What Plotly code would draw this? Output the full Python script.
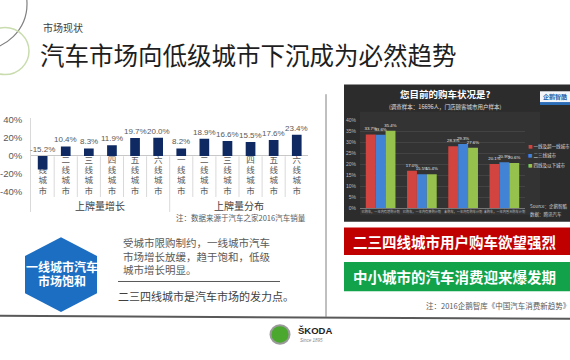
import plotly.graph_objects as go

W, H = 570, 360

# ---------------- data ----------------
city_tiers = ["一线城市", "二线城市", "三线城市", "四线城市", "五线城市", "六线城市"]
group_names = ["上牌量增长", "上牌量分布"]
growth = [-15.2, 10.4, 8.3, 11.9, 19.7, 20.0]
share = [8.2, 18.9, 16.6, 15.5, 17.6, 23.4]
left_tick_vals = [40, 20, 0, -20, -40]
left_tick_text = ["40%", "20%", "0%", "-20%", "-40%"]

survey_cats = ["已购车，一年内有增购计划", "已购车，一年内有换购计划",
               "未购车，一年内有购车计划", "未购车，一年内暂无购车计划"]
series_names = ["一线及超一线城市", "二三线城市", "四线及以下城市"]
series_first = [33.7, 17.0, 28.3, 20.1]
series_second = [33.6, 15.5, 29.3, 20.9]
series_third = [35.4, 15.4, 27.6, 20.6]

# ---------------- helpers ----------------
CJK = "Noto Sans CJK SC"
NUM = "Liberation Sans, Noto Sans CJK SC"


def X(px):
    return px / W


def Y(py):
    return 1 - py / H


annotations = []
shapes = []


def ann(px, py, text, size, color, xanchor="left", family=CJK, bold=False, yanchor="middle"):
    annotations.append(dict(
        x=X(px), y=Y(py), xref="paper", yref="paper", text=("<b>%s</b>" % text) if bold else text,
        showarrow=False, xanchor=xanchor, yanchor=yanchor, borderpad=0,
        font=dict(size=size, color=color, family=family)))


def rect(x0, y0, x1, y1, fill, line_color=None, line_width=0, layer="below"):
    shapes.append(dict(type="rect", xref="paper", yref="paper", x0=X(x0), x1=X(x1), y0=Y(y0), y1=Y(y1),
                       fillcolor=fill, line=dict(width=line_width, color=line_color or fill), layer=layer))


def line(x0, y0, x1, y1, color, width=1, layer="above"):
    shapes.append(dict(type="line", xref="paper", yref="paper", x0=X(x0), x1=X(x1), y0=Y(y0), y1=Y(y1),
                       line=dict(color=color, width=width), layer=layer))


fig = go.Figure()

# ---------------- left chart ----------------
CHAR_Y = [-5.5, -16.8, -28.1, -39.4]
lx, ly, lt = [], [], []
for g in range(2):
    for t, name in enumerate(city_tiers):
        for k, ch in enumerate(name):
            lx.append(g * 6 + t)
            ly.append(CHAR_Y[k])
            lt.append(ch)
fig.add_trace(go.Scatter(x=lx, y=ly, text=lt, mode="text", xaxis="x", yaxis="y",
                         textfont=dict(size=8.5, color="#595959", family=CJK),
                         hoverinfo="skip", showlegend=False, cliponaxis=False))

left_vals = growth + share
left_x = list(range(len(left_vals)))
fig.add_trace(go.Bar(x=left_x, y=left_vals, xaxis="x3", yaxis="y3", width=0.42,
                     marker=dict(color="#0f2a63", line=dict(width=0)), showlegend=False))

for i, v in zip(left_x, left_vals):
    annotations.append(dict(x=i, y=max(v, 0), xref="x", yref="y", text="%.1f%%" % v, showarrow=False,
                            yanchor="bottom", yshift=1, borderpad=0,
                            font=dict(size=8, color="#595959", family=NUM)))
for g, name in enumerate(group_names):
    annotations.append(dict(x=g * 6 + 2.5, y=-55, xref="x", yref="y", text=name, showarrow=False,
                            font=dict(size=10, color="#404040", family=CJK)))

for i in range(11):
    x = i + 0.5
    shapes.append(dict(type="line", xref="x", yref="y", x0=x, x1=x, y0=-0.5, y1=(-62 if i == 5 else -45.5),
                       line=dict(color="#d9d9d9", width=1)))

ann(175, 218, "注：数据来源于汽车之家2016汽车销量", 7.5, "#595959")

# ---------------- right chart ----------------
rect(344, 82, 570, 222, "#2c2c2c")
rect(360, 110, 540, 215, "#333333")
series_vals = [series_first, series_second, series_third]
series_colors = ["#d2443f", "#4383d6", "#95c14c"]
for s in range(3):
    fig.add_trace(go.Bar(x=list(range(len(survey_cats))), y=series_vals[s], xaxis="x2", yaxis="y2",
                         width=0.24, offset=-0.36 + 0.24 * s, name=series_names[s],
                         marker=dict(color=series_colors[s], line=dict(width=0)),
                         text=["%.1f%%" % v for v in series_vals[s]], textposition="outside",
                         constraintext="none", cliponaxis=False,
                         textfont=dict(size=4.3, color="#e6e6e6", family=NUM), showlegend=False))

ann(445, 92, "您目前的购车状况是?", 9.5, "#ffffff", xanchor="center", bold=True)
ann(445, 105, "(调查样本：16696人，门店顾客城市用户样本)", 5.5, "#e0e0e0", xanchor="center")
rect(540, 89, 570, 103, "#f4f6fa", layer="above")
ann(555, 94, "<b>企鹅智酷</b>", 6, "#1f5fa8", xanchor="center")
rect(540, 100, 570, 103, "#2c6db8", layer="above")
for s in range(3):
    py = 145 + 10 * s
    ann(527, py, "<span style='color:%s'>■</span> %s" % (series_colors[s], series_names[s]), 4.5, "#dddddd")
ann(529, 207, "Source：企鹅智酷", 4.5, "#cccccc")
ann(529, 215, "数据：腾讯汽车", 4.5, "#cccccc")

# banners
rect(344, 228, 570, 256, "#c00000")
ann(352, 242, "二三四线城市用户购车欲望强烈", 14.5, "#ffffff", bold=True)
rect(344, 263, 570, 293, "#12a24a")
ann(352, 278, "中小城市的汽车消费迎来爆发期", 14.5, "#ffffff", bold=True)
ann(425, 307, "注：2016企鹅智库《中国汽车消费新趋势》", 7.5, "#595959")

# ---------------- left bottom text ----------------
hx, hy, hw, hr = 61, 276, 36, 38
shapes.append(dict(type="path", xref="paper", yref="paper",
                   path="M %f %f L %f %f L %f %f L %f %f L %f %f L %f %f Z" % (
                       X(hx), Y(hy - hr), X(hx + hw), Y(hy - hr / 2), X(hx + hw), Y(hy + hr / 2),
                       X(hx), Y(hy + hr), X(hx - hw), Y(hy + hr / 2), X(hx - hw), Y(hy - hr / 2)),
                   fillcolor="#1b6ec2", line=dict(width=0), layer="below"))
ann(62, 268, "一线城市汽车", 12, "#ffffff", xanchor="center", bold=True)
ann(62, 282, "市场饱和", 12, "#ffffff", xanchor="center", bold=True)

ann(122, 243, "受城市限购制约，一线城市汽车", 10.5, "#595959")
ann(122, 257, "市场增长放缓，趋于饱和，低级", 10.5, "#595959")
ann(122, 271, "城市增长明显。", 10.5, "#595959")
line(118, 283, 280, 283, "#595959", 1)
ann(117, 298, "二三四线城市是汽车市场的发力点。", 11, "#404040")

# ---------------- slide decoration ----------------
shapes.append(dict(type="circle", xref="paper", yref="paper", x0=X(-67), x1=X(27), y0=Y(47), y1=Y(-47),
                   line=dict(color="#808080", width=1.2), fillcolor="rgba(0,0,0,0)"))
shapes.append(dict(type="circle", xref="paper", yref="paper", x0=X(-19), x1=X(29), y0=Y(72), y1=Y(24),
                   line=dict(color="#c9dcae", width=1.5), fillcolor="rgba(0,0,0,0)"))
ann(42, 24, "市场现状", 10, "#404040")
ann(39, 52, "汽车市场向低级城市下沉成为必然趋势", 24.5, "#1e1e1e")

line(326, 92, 326, 319, "#808080", 1)
line(0, 318, 570, 321, "#595959", 2)

shapes.append(dict(type="circle", xref="paper", yref="paper", x0=X(270.5), x1=X(289.5), y0=Y(346.5), y1=Y(327.5),
                   line=dict(color="#9a9a9a", width=2), fillcolor="#4aa82f"))
ann(297, 333, "ŠKODA", 9.5, "#222222", family=NUM, bold=True)
ann(299, 343, "<i>Since 1895</i>", 4.5, "#888888", family=NUM)

# ---------------- layout ----------------
left_dom_x = [X(31.1), X(308.3)]
left_range_x = [-0.5, 11.5]
left_range_y = [-62, 42]
fig.update_layout(
    width=W, height=H, margin=dict(l=0, r=0, t=0, b=0),
    paper_bgcolor="#ffffff", plot_bgcolor="rgba(0,0,0,0)",
    barmode="overlay", showlegend=False,
    xaxis=dict(domain=left_dom_x, range=left_range_x, anchor="y", showticklabels=False,
               showgrid=False, zeroline=False, showline=False, ticks=""),
    yaxis=dict(domain=[Y(212), Y(116.2)], range=left_range_y, anchor="x",
               tickvals=left_tick_vals, ticktext=left_tick_text,
               tickfont=dict(size=9.5, color="#595959", family=NUM),
               showgrid=False, zeroline=True, zerolinecolor="#c8c8c8", zerolinewidth=1,
               showline=True, linecolor="#d9d9d9", linewidth=1, ticks="", ticklabelstandoff=6),
    xaxis3=dict(overlaying="x", anchor="y3", range=left_range_x, visible=False),
    yaxis3=dict(overlaying="y", anchor="x3", range=left_range_y, visible=False),
    xaxis2=dict(domain=[X(360), X(525)], anchor="y2", range=[-0.5, 3.5],
                tickvals=list(range(len(survey_cats))), ticktext=survey_cats, tickangle=0,
                tickfont=dict(size=3.2, color="#bbbbbb", family=CJK),
                showgrid=False, zeroline=False, showline=True, linecolor="#777777", ticks=""),
    yaxis2=dict(domain=[Y(208), Y(119)], anchor="x2", range=[0, 40], dtick=5, ticksuffix="%",
                tickfont=dict(size=5, color="#bbbbbb", family=NUM),
                gridcolor="rgba(255,255,255,0.08)", zeroline=False, ticks="", ticklabelstandoff=3),
    annotations=annotations, shapes=shapes,
)

post = ("document.documentElement.style.overflow='hidden';"
        "document.body.style.margin='0px';document.body.style.overflow='hidden';"
        "document.querySelectorAll('.main-svg').forEach(function(s){s.style.overflow='hidden';});")
fig.write_html("out.html", config={"displayModeBar": False, "responsive": False}, post_script=post)
